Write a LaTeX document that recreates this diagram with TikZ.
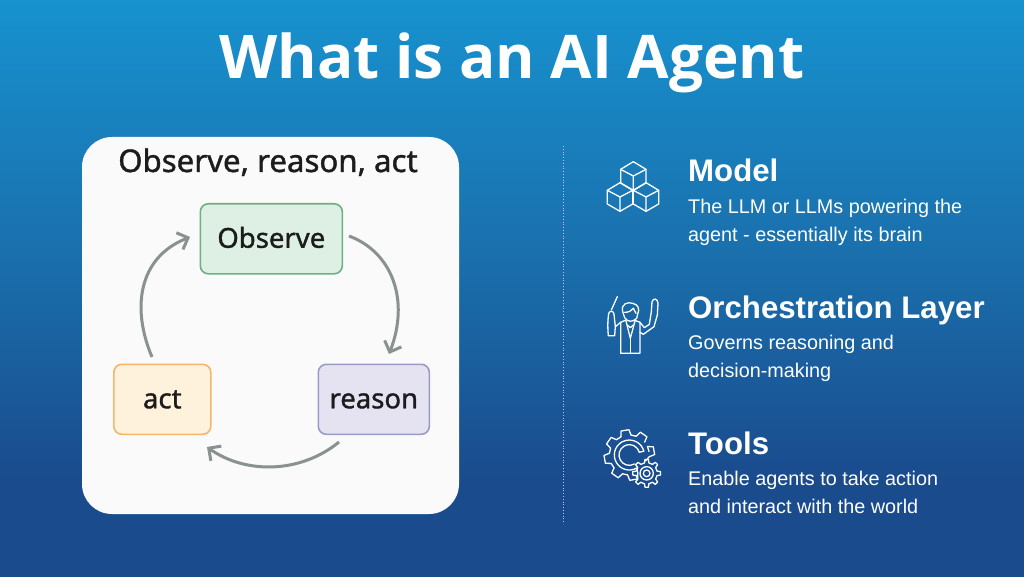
\documentclass[tikz,border=0pt]{standalone}
\usepackage{fontspec}
\setmainfont{Liberation Sans}
\newfontfamily\titlefont{Open Sans}
\newfontfamily\cardfont[FakeBold=1.2]{Noto Sans}
\usetikzlibrary{arrows.meta}
\definecolor{bgA}{HTML}{1792CF}
\definecolor{bgB}{HTML}{1A70AD}
\definecolor{bgC}{HTML}{1A4B8D}
\definecolor{greyline}{HTML}{8A9290}
\definecolor{inkc}{HTML}{1C1C1C}
\definecolor{obsline}{HTML}{6FAF85}
\definecolor{obsfill}{HTML}{DDF0E3}
\definecolor{actline}{HTML}{F5B66B}
\definecolor{actfill}{HTML}{FFF2DC}
\definecolor{realine}{HTML}{9A9CC8}
\definecolor{reafill}{HTML}{E5E3F2}
\tikzset{
 x=1pt,y=-1pt,
 cardbox/.style={draw,line width=1.6pt,rounded corners=8pt,anchor=north west,inner sep=0pt,text=inkc,text height=22pt,text depth=4pt,font=\cardfont\fontsize{27.5}{30}\selectfont},
 loopline/.style={draw=greyline,line width=3pt,-{Straight Barb[length=9pt,width=18pt,line width=3pt]}},
 head/.style={anchor=base west,text=white,font=\bfseries\fontsize{31.2}{34}\selectfont,inner sep=0pt},
 body/.style={anchor=base west,text=white,font=\fontsize{19.8}{22}\selectfont,inner sep=0pt},
 ico/.style={draw=white,line width=1.3pt,line join=round,line cap=round}
}
\begin{document}
\begin{tikzpicture}
\useasboundingbox (0,0) rectangle (1024,577);
\shade[top color=bgA,bottom color=bgB] (0,0) rectangle (1024,250);
\shade[top color=bgB,bottom color=bgC] (0,250) rectangle (1024,480);
\fill[bgC] (0,480) rectangle (1024,577);
\node[anchor=base,text=white,inner sep=0pt,font=\titlefont\bfseries\fontsize{60.2}{66}\selectfont] (title) at (512,79) {What is an AI Agent};
\fill[white!98!black,rounded corners=30pt] (82,137) rectangle (459,514);
\node[anchor=base,inner sep=0pt,text=inkc,font=\cardfont\fontsize{31.2}{34}\selectfont] (cardtitle) at (268,172) {Observe, reason, act};
\node[cardbox,draw=obsline,fill=obsfill,minimum width=142pt,minimum height=70pt] (obs) at (199.5,203) {Observe};
\node[cardbox,draw=actline,fill=actfill,minimum width=97pt,minimum height=70pt] (act) at (113,363.5) {act};
\node[cardbox,draw=realine,fill=reafill,minimum width=111pt,minimum height=70pt] (rea) at (317.5,363.5) {reason};
\coordinate (o1) at (349,236); \coordinate (r1) at (389,354);
\coordinate (r2) at (339,442); \coordinate (a2) at (207,447);
\coordinate (a3) at (152,357); \coordinate (o3) at (190,237);
\draw[loopline] (o1) .. controls (392,252) and (410,300) .. (r1);
\draw[loopline] (r2) .. controls (300,474) and (245,474) .. (a2);
\draw[loopline] (a3) .. controls (132,310) and (137,258) .. (o3);
\draw[white!75!blue,dotted,line width=0.8pt] (563,146) -- (563,524);
\node[head] (h1) at (688,182) {Model};
\node[body] (b1a) at (688,213.5) {The LLM or LLMs powering the};
\node[body] (b1b) at (688,241.5) {agent - essentially its brain};
\node[head] (h2) at (688,318) {Orchestration Layer};
\node[body] (b2a) at (688,349.5) {Governs reasoning and};
\node[body] (b2b) at (688,377.5) {decision-making};
\node[head] (h3) at (688,454) {Tools};
\node[body] (b3a) at (688,485.5) {Enable agents to take action};
\node[body] (b3b) at (688,513.5) {and interact with the world};
% cubes
\begin{scope}[shift={(590,150)},x=0.3333pt,y=-0.3333pt]
 \foreach \cx/\cy in {130/78,90/141,168/141}{
  \draw[ico] (\cx,\cy-43)--(\cx+38,\cy-20)--(\cx+38,\cy+21)--(\cx,\cy+43)--(\cx-38,\cy+21)--(\cx-38,\cy-20)--cycle;
  \draw[ico] (\cx-38,\cy-20)--(\cx,\cy)--(\cx+38,\cy-20) (\cx,\cy)--(\cx,\cy+43);
 }
\end{scope}
% conductor
\begin{scope}[shift={(590,285)},x=0.3333pt,y=-0.3333pt]
 \draw[ico] (82,35)--(64,75);
 \draw[ico] (55,152) .. controls (52,120) and (54,100) .. (56,85) .. controls (60,75) and (72,78) .. (72,88) -- (76,125) -- (92,112);
 \draw[ico] (55,152) -- (74,152) -- (76,125);
 \draw[ico] (150,112) -- (163,128) -- (178,118) -- (184,80) -- (186,50) .. controls (190,38) and (203,40) .. (204,55) -- (202,90) -- (192,125) -- (160,148) -- (150,142);
 \draw[ico] (92,112) -- (92,205) -- (150,205) -- (150,112) -- (132,105);
 \draw[ico] (92,112) -- (108,105);
 \draw[ico] (108,108) -- (121,160) -- (135,108);
 \draw[ico] (121,160) -- (121,205);
 \draw[ico] (112,120) -- (121,128) -- (130,120);
 \draw[ico] (98,80) .. controls (92,55) and (115,50) .. (128,55) .. controls (145,58) and (150,72) .. (143,88) -- (140,100) .. controls (130,112) and (112,112) .. (104,98) -- (98,80);
 \draw[ico] (104,82) .. controls (115,82) and (125,78) .. (130,70) -- (138,85);
\end{scope}
% gears
\begin{scope}[shift={(590,420)},x=0.3333pt,y=-0.3333pt]
 \begin{scope}[shift={(118,105)}]
  \foreach \a in {80,125,170,215,260,305,350}{
   \draw[ico] (\a-15:60)--(\a-9:76)--(\a+9:76)--(\a+15:60);
  }
  \foreach \a in {125,170,215,260,305}{
   \draw[ico] (\a-30:60) arc[start angle=\a-30,end angle=\a-15,radius=60];
  }
  \draw[ico] (350:60) arc[start angle=350,end angle=335,radius=60];
  \draw[ico] (5:60) -- (20:52);
  \draw[ico] (60:45) arc[start angle=60,end angle=345,radius=45];
  \draw[ico] (60:31) arc[start angle=60,end angle=345,radius=31];
  \draw[ico] (65:60) -- (60:45) (345:45) -- (345:31);
 \end{scope}
 \begin{scope}[shift={(170,160)}]
  \foreach \a in {0,45,...,315}{
   \draw[ico] (\a-12:32)--(\a-7:42)--(\a+7:42)--(\a+12:32) arc[start angle=\a+12,end angle=\a+33,radius=32];
  }
  \draw[ico] (0,0) circle[radius=20];
  \draw[ico] (0,0) circle[radius=10];
 \end{scope}
\end{scope}
\end{tikzpicture}
\end{document}
